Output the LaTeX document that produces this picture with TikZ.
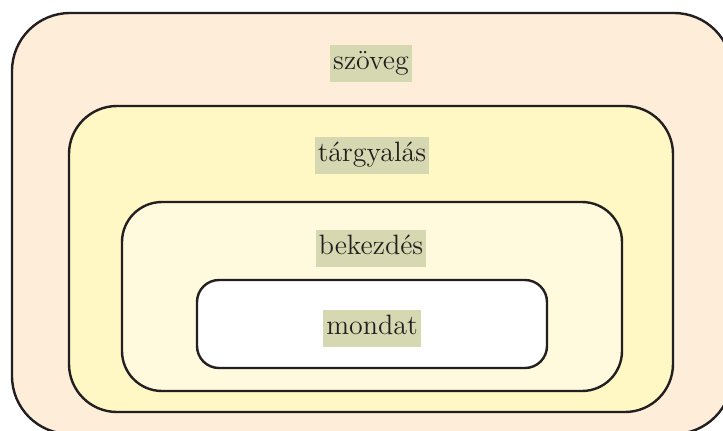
\documentclass[tikz,border=0pt]{standalone}
\usepackage{tikz}
\usetikzlibrary{positioning}
\definecolor{outerfill}{RGB}{253,237,217}
\definecolor{midfill}{RGB}{255,247,196}
\definecolor{innerfill}{RGB}{255,250,222}
\definecolor{tagfill}{RGB}{214,216,178}
\definecolor{edge}{RGB}{35,31,32}
\tikzset{
  level/.style={rectangle, draw=edge, line width=1.2pt},
  tag/.style={fill=tagfill, inner xsep=1.5pt, inner ysep=2.5pt, text height=10pt, text depth=3.5pt, text=edge, font=\fontsize{14}{16}\selectfont},
}

\begin{document}
\begin{tikzpicture}[x=0.5pt, y=-0.5pt]
  \useasboundingbox (0,0) rectangle (723,430);

  % nested levels
  \node[level, fill=outerfill, rounded corners=29pt, minimum width=360pt, minimum height=210.5pt] (szoveg) at (372,223.5) {};
  \node[level, fill=midfill, rounded corners=24pt, minimum width=302pt, minimum height=153pt] (targyalas) at (371,259) {};
  \node[level, fill=innerfill, rounded corners=20pt, minimum width=250pt, minimum height=94.5pt] (bekezdes) at (372,296.5) {};
  \node[level, fill=white, rounded corners=11pt, minimum width=175pt, minimum height=44pt] (mondat) at (372,324) {};

  % labels
  \node[tag] (szovegtag) at (371,63) {szöveg};
  \node[tag] (targyalastag) at (372,155) {tárgyalás};
  \node[tag] (bekezdestag) at (371,248) {bekezdés};
  \node[tag] (mondattag) at (372,328) {mondat};

\end{tikzpicture}
\end{document}
